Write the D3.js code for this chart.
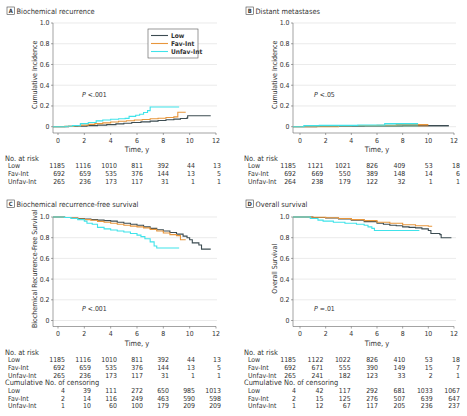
<!DOCTYPE html>
<html><head><meta charset="utf-8">
<script src="https://cdn.jsdelivr.net/npm/d3@7/dist/d3.min.js"></script>
<style>
body{margin:0;background:#fff;}
svg{display:block;}
text{font-family:"Liberation Sans Narrow","DejaVu Sans Condensed","Liberation Sans",sans-serif;fill:#333;}
</style></head><body>
<svg id="c" width="467" height="416"></svg>
<script>
// ---------- data ----------
const groups = ["Low", "Fav-Int", "Unfav-Int"];
const colors = ["#3c4c52", "#e8963c", "#3fe3ea"];
const xTicks = [0, 2, 4, 6, 8, 10, 12];
const yTicks = [0, 0.2, 0.4, 0.6, 0.8, 1.0];
const yTickLabels = ["0", "0.2", "0.4", "0.6", "0.8", "1.0"];
const riskTimes = [0, 2, 4, 6, 8, 10, 12];

// Panel A: biochemical recurrence (cumulative incidence)
const aLow = [[0,0],[0.8,0.003],[1.5,0.006],[2.2,0.01],[3,0.015],[3.7,0.02],[4.4,0.027],[5,0.033],[5.6,0.04],[6.3,0.047],[7,0.054],[7.6,0.06],[8.2,0.067],[8.8,0.073],[9.3,0.079],[9.8,0.085],[9.85,0.105],[11.6,0.105]];
const aFav = [[0,0],[0.5,0.003],[1.2,0.008],[1.7,0.015],[2.3,0.022],[2.8,0.03],[3.4,0.037],[4,0.045],[4.6,0.052],[5.2,0.058],[5.8,0.064],[6.4,0.07],[7,0.076],[7.6,0.082],[8.2,0.088],[8.8,0.095],[9.1,0.14],[9.7,0.14]];
const aUnfav = [[0,0],[0.6,0.005],[1.1,0.01],[1.7,0.03],[2.3,0.04],[2.9,0.056],[3.4,0.065],[4,0.072],[4.6,0.076],[5.1,0.08],[5.4,0.1],[5.9,0.11],[6.2,0.12],[6.5,0.137],[6.8,0.155],[7.0,0.19],[9.2,0.19]];
// Panel B: distant metastases
const bLow = [[0,0],[1.3,0.003],[3,0.006],[5,0.008],[8,0.01],[11.6,0.01]];
const bFav = [[0,0],[3,0.01],[4,0.012],[6,0.014],[7.5,0.02],[10,0.02]];
const bUnfav = [[0,0],[0.3,0.01],[1.5,0.013],[4.5,0.017],[6.6,0.03],[9.2,0.03]];
// Panel C: biochemical recurrence-free survival
const cLow = [[0,1],[0.5,0.995],[1,0.99],[1.5,0.985],[2,0.98],[2.5,0.975],[3,0.97],[3.5,0.965],[4,0.96],[4.5,0.95],[5,0.94],[5.5,0.93],[6,0.92],[6.5,0.905],[7,0.89],[7.5,0.877],[8,0.865],[8.5,0.85],[9,0.835],[9.5,0.815],[9.8,0.8],[10,0.78],[10.2,0.75],[10.7,0.73],[10.9,0.69],[11.6,0.69]];
const cFav = [[0,1],[0.5,0.995],[1,0.99],[1.5,0.98],[2,0.975],[2.5,0.968],[3,0.958],[3.5,0.95],[4,0.94],[4.5,0.93],[5,0.92],[5.5,0.912],[6,0.905],[6.5,0.895],[7,0.88],[7.5,0.865],[8,0.845],[8.5,0.83],[9,0.82],[9.3,0.78],[9.7,0.78]];
const cUnfav = [[0,1],[0.5,0.995],[1,0.985],[1.5,0.975],[2,0.96],[2.2,0.94],[2.6,0.93],[3,0.9],[3.5,0.885],[4,0.875],[4.5,0.865],[5,0.855],[5.5,0.84],[6,0.825],[6.3,0.81],[6.6,0.79],[7,0.76],[7.3,0.72],[7.5,0.70],[9.2,0.70]];
// Panel D: overall survival
const dLow = [[0,1],[1,0.995],[2,0.99],[3,0.98],[4,0.97],[5,0.955],[6,0.94],[6.5,0.93],[7,0.92],[7.5,0.915],[8,0.905],[8.5,0.9],[9,0.895],[9.5,0.885],[10,0.87],[10.2,0.84],[10.9,0.83],[11,0.8],[11.8,0.8]];
const dFav = [[0,1],[1,0.997],[2,0.993],[3,0.985],[4,0.975],[5,0.965],[6,0.95],[7,0.94],[8,0.925],[9,0.915],[10,0.91],[10.3,0.91]];
const dUnfav = [[0,1],[0.8,0.985],[1.4,0.97],[1.8,0.96],[2.6,0.95],[3.5,0.94],[4.4,0.93],[5,0.92],[5.3,0.905],[5.6,0.89],[5.8,0.87],[9.3,0.87]];

// numbers at risk / censoring
const riskA = [[1185,1116,1010,811,392,44,13],[692,659,535,376,144,13,5],[265,236,173,117,31,1,1]];
const riskB = [[1185,1121,1021,826,409,53,18],[692,669,550,389,148,14,6],[264,238,179,122,32,1,1]];
const riskC = [[1185,1116,1010,811,392,44,13],[692,659,535,376,144,13,5],[265,236,173,117,31,1,1]];
const censC = [[4,39,111,272,650,985,1013],[2,14,116,249,463,590,598],[1,10,60,100,179,209,209]];
const riskD = [[1185,1122,1022,826,410,53,18],[692,671,555,390,149,15,7],[265,241,182,123,33,2,1]];
const censD = [[4,42,117,292,681,1033,1067],[2,15,125,276,507,639,647],[1,12,67,117,205,236,237]];

const titles = ["Biochemical recurrence","Distant metastases","Biochemical recurrence-free survival","Overall survival"];
const letters = ["A","B","C","D"];
const yLabels = ["Cumulative Incidence","Cumulative Incidence","Biochemical Recurrence-Free Survival","Overall Survival"];
const pTexts = [["P"," <.001"],["P"," <.05"],["P"," <.001"],["P"," =.01"]];

// ---------- layout ----------
const svg = d3.select("#c");
const layLeft = {axisX:53, x0:58, x1:216, gridR:217, colL:65, colR:221, tx:5, rowX:8, yLab:36, pX:82};
const layRight = {axisX:293, x0:300, x1:454, gridR:456, colL:296, colR:460, tx:244, rowX:248, yLab:276, pX:314};
const layTop = {y0:126.7, y1:23, axisY:133, tickY:141, timeY:149.5, titleY:11, boxY:7, riskY:158, pY:95};
const layBot = {y0:320.5, y1:217, axisY:326.5, tickY:334, timeY:343.5, titleY:204, boxY:200, riskY:352, pY:309};

const panels = [
  {h:layLeft, v:layTop, series:[aLow,aFav,aUnfav], risk:riskA, cens:null, fill:false, legend:true},
  {h:layRight, v:layTop, series:[bLow,bFav,bUnfav], risk:riskB, cens:null, fill:true, legend:false},
  {h:layLeft, v:layBot, series:[cLow,cFav,cUnfav], risk:riskC, cens:censC, fill:false, legend:false},
  {h:layRight, v:layBot, series:[dLow,dFav,dUnfav], risk:riskD, cens:censD, fill:false, legend:false}
];

const fs = 7.4, fn = 6.9, fy = 7;
panels.forEach((p, i) => {
  const h = p.h, v = p.v;
  const x = d3.scaleLinear().domain([0, 12]).range([h.x0, h.x1]);
  const y = d3.scaleLinear().domain([0, 1]).range([v.y0, v.y1]);
  const g = svg.append("g");

  // label box + title
  g.append("rect").attr("x", h.tx + 2).attr("y", v.boxY).attr("width", 7.5).attr("height", 7.5)
    .attr("fill", "#fff").attr("stroke", "#444").attr("stroke-width", 0.6);
  g.append("text").attr("x", h.tx + 5.75).attr("y", v.boxY + 6).attr("text-anchor", "middle")
    .attr("font-size", 5.8).attr("font-weight", "bold").text(letters[i]);
  g.append("text").attr("x", h.tx + 11.5).attr("y", v.titleY + 2.6).attr("font-size", fs).text(titles[i]);

  // grid
  g.selectAll(".grid").data(yTicks).enter().append("line")
    .attr("x1", h.axisX).attr("x2", h.gridR).attr("y1", d => y(d)).attr("y2", d => y(d))
    .attr("stroke", "#dcdcdc").attr("stroke-width", 0.6);

  // y axis
  g.append("line").attr("x1", h.axisX).attr("x2", h.axisX).attr("y1", y(1)).attr("y2", v.axisY)
    .attr("stroke", "#666").attr("stroke-width", 0.6);
  g.selectAll(".yt").data(yTicks).enter().append("line")
    .attr("x1", h.axisX - 2).attr("x2", h.axisX).attr("y1", d => y(d)).attr("y2", d => y(d))
    .attr("stroke", "#666").attr("stroke-width", 0.6);
  g.selectAll(".yl").data(yTicks).enter().append("text")
    .attr("x", h.axisX - 3.5).attr("y", d => y(d) + 2.4).attr("text-anchor", "end")
    .attr("font-size", fn).text((d, k) => yTickLabels[k]);
  g.append("text").attr("transform", `translate(${h.yLab + 1},${(y(0) + y(1)) / 2}) rotate(-90)`)
    .attr("text-anchor", "middle").attr("font-size", fy).text(yLabels[i]);

  // x axis
  g.append("line").attr("x1", h.axisX).attr("x2", h.x1).attr("y1", v.axisY).attr("y2", v.axisY)
    .attr("stroke", "#666").attr("stroke-width", 0.6);
  g.selectAll(".xt").data(xTicks).enter().append("line")
    .attr("x1", d => x(d)).attr("x2", d => x(d)).attr("y1", v.axisY).attr("y2", v.axisY + 2)
    .attr("stroke", "#666").attr("stroke-width", 0.6);
  g.selectAll(".xl").data(xTicks).enter().append("text")
    .attr("x", d => x(d)).attr("y", v.tickY + 2.4).attr("text-anchor", "middle")
    .attr("font-size", fn).text(d => d);
  g.append("text").attr("x", (h.x0 + h.x1) / 2).attr("y", v.timeY + 2.5).attr("text-anchor", "middle")
    .attr("font-size", fs).text("Time, y");

  // P value
  const pt = g.append("text").attr("x", h.pX).attr("y", v.pY + 2.4).attr("font-size", fn);
  pt.append("tspan").attr("font-style", "italic").text(pTexts[i][0]);
  pt.append("tspan").text(pTexts[i][1]);

  // curves (start at the y axis)
  const tStart = x.invert(h.axisX);
  p.series.forEach((s, k) => {
    const pts = [[tStart, s[0][1]]].concat(s);
    if (p.fill) {
      const area = d3.area().curve(d3.curveStepAfter).x(d => x(d[0])).y0(y(0)).y1(d => y(d[1]));
      g.append("path").attr("d", area(pts)).attr("fill", colors[k]).attr("opacity", 0.35);
    }
    const line = d3.line().curve(d3.curveStepAfter).x(d => x(d[0])).y(d => y(d[1]));
    g.append("path").attr("d", line(pts)).attr("fill", "none").attr("stroke", colors[k])
      .attr("stroke-width", 1.1);
  });

  // legend
  if (p.legend) {
    const lg = g.append("g");
    lg.append("rect").attr("x", 148).attr("y", 29).attr("width", 50).attr("height", 29)
      .attr("fill", "#fff").attr("stroke", "#555").attr("stroke-width", 0.6);
    groups.forEach((gr, k) => {
      lg.append("line").attr("x1", 151).attr("x2", 168).attr("y1", 35.5 + k * 8).attr("y2", 35.5 + k * 8)
        .attr("stroke", colors[k]).attr("stroke-width", 1.1);
      lg.append("text").attr("x", 171).attr("y", 35.5 + k * 8 + 2.4).attr("font-size", 6.6)
        .attr("font-weight", "bold").attr("fill", "#444").text(gr);
    });
  }

  // risk table
  const col = d3.scaleLinear().domain([0, 12]).range([h.colL, h.colR]);
  const tables = [["No. at risk", p.risk]];
  if (p.cens) tables.push(["Cumulative No. of censoring", p.cens]);
  let yy = v.riskY;
  tables.forEach(([hdr, rows]) => {
    g.append("text").attr("x", h.tx).attr("y", yy + 2.5).attr("font-size", fs).text(hdr);
    yy += 7.7;
    rows.forEach((r, k) => {
      g.append("text").attr("x", h.rowX).attr("y", yy + 2.4).attr("font-size", fn).text(groups[k]);
      g.selectAll(null).data(r).enter().append("text")
        .attr("x", (d, j) => col(riskTimes[j])).attr("y", yy + 2.4)
        .attr("text-anchor", "end").attr("font-size", fn).text(d => d);
      yy += 7.7;
    });
  });
});
</script>
</body></html>
